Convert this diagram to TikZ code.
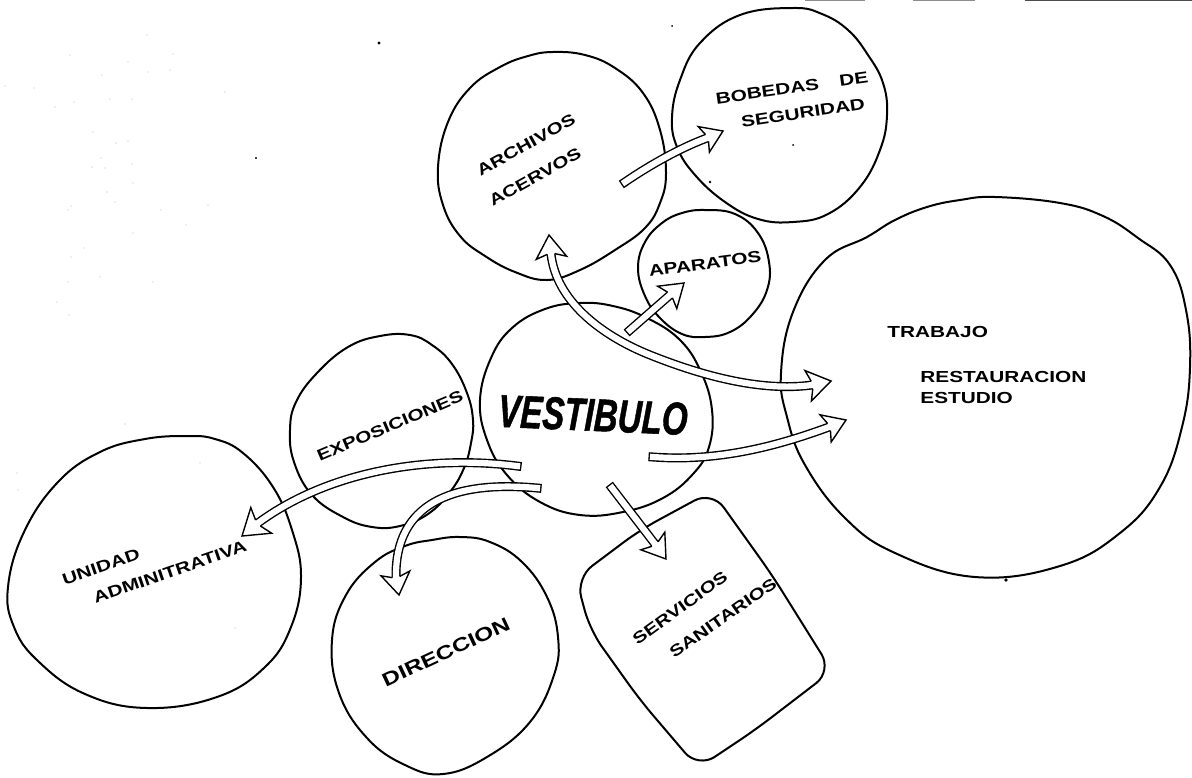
\documentclass[tikz,border=0pt]{standalone}
\usepackage{fontspec}
\usepackage{graphicx}
\setmainfont{Liberation Sans}
\newfontfamily\lblfont{Liberation Sans}[FakeStretch=1.3]
\newfontfamily\hallfont{Liberation Sans}[FakeBold=1.2]
\usetikzlibrary{calc}

% open, barbed arrow head: #1 = base of the head on the shaft, #2 = tip
\newcommand\hollowhead[2]{%
  \fill[white] ($(#1)!1.9pt!90:(#2)$)
    -- ($(#1)!-0.2!(#2)+(#1)!0.8!90:(#2)-(#1)$) -- (#2)
    -- ($(#1)!-0.2!(#2)+(#1)!0.8!-90:(#2)-(#1)$)
    -- ($(#1)!1.9pt!-90:(#2)$) -- cycle;
  \draw[line width=0.7pt, line join=miter] ($(#1)!1.9pt!90:(#2)$)
    -- ($(#1)!-0.2!(#2)+(#1)!0.8!90:(#2)-(#1)$) -- (#2)
    -- ($(#1)!-0.2!(#2)+(#1)!0.8!-90:(#2)-(#1)$)
    -- ($(#1)!1.9pt!-90:(#2)$);
}

\begin{document}
\begin{tikzpicture}[x=0.5pt,y=-0.5pt,
  blob/.style={draw=black, line width=1pt, line join=round},
  shaft/.style={draw=black, line width=0.7pt, double=white, double distance=3.1pt, line cap=rect},
  lbl/.style={inner sep=0pt, font=\lblfont\bfseries\fontsize{8}{9}\selectfont},
  speck/.style={fill=black!28},
  scanline/.style={draw=black!45, line width=0.45pt}]

\useasboundingbox (0,0) rectangle (1192,777);

% ---------- scanning marks ----------
\draw[scanline] (805,0.6) -- (865,0.6);
\draw[scanline] (913,0.6) -- (975,0.6);
\draw[scanline, draw=black!70] (1025,0.6) -- (1192,0.6);
\foreach \p in {(147,35),(70,55),(173,54),(128,62),(102,75),(148,72),(170,70),(5,86),(34,88),
                (225,92),(74,102),(110,99),(132,99),(55,107),(93,132),(128,141),(116,143),(101,158),
                (132,164),(92,167),(105,168),(133,183),(107,192),(115,202),(71,206),(208,205),
                (68,210),(161,210),(186,225),(133,233),(84,248),(71,257),(100,277),(68,282),
                (153,282),(57,302),(69,315),(17,473),(18,490),(200,463),(125,424),(235,628)}
  \fill[speck] \p circle[radius=0.35pt];
\fill (379,43) circle[radius=0.8pt];
\fill (256,158) circle[radius=0.6pt];
\fill (710,182) circle[radius=0.7pt];
\fill (672,26) circle[radius=0.5pt];
\fill (793,145) circle[radius=0.5pt];
\fill (1006,580) circle[radius=0.9pt];

% ---------- spaces ----------
% archivos / acervos
\draw[blob] plot[smooth cycle, tension=0.7] coordinates {
  (553,52) (585,55) (615,68) (643,93) (660,130) (666,173) (660,203) (645,228)
  (615,250) (580,270) (547,280) (515,272) (485,256) (460,236) (443,205) (438,167)
  (448,122) (470,88) (500,67) (528,56)};
% bobedas de seguridad
\draw[blob] plot[smooth cycle, tension=0.7] coordinates {
  (793,8) (822,14) (848,30) (868,55) (883,83) (887,115) (880,150) (860,187) (828,214)
  (793,222) (758,219) (725,202) (695,175) (677,147) (672,117) (680,80) (700,43) (740,15)};
% aparatos
\draw[blob] plot[smooth cycle, tension=0.7] coordinates {
  (705,210) (735,214) (758,233) (769,262) (767,290) (752,315) (730,332) (705,337)
  (682,334) (660,318) (645,296) (638,268) (645,242) (662,223) (682,213)};
% vestibulo
\draw[blob] plot[smooth cycle, tension=0.7] coordinates {
  (580,303) (613,306) (647,318) (680,340) (701,372) (712,410) (709,447) (693,474)
  (663,498) (623,512) (580,515) (540,502) (507,475) (487,440) (480,400) (491,358)
  (512,328) (545,309)};
% exposiciones
\draw[blob] plot[smooth cycle, tension=0.7] coordinates {
  (410,335) (432,345) (452,364) (467,393) (473,420) (471,443) (464,468) (450,492)
  (428,514) (400,526) (372,527) (343,517) (312,495) (294,462) (290,430) (296,402)
  (317,373) (348,347) (380,336)};
% unidad administrativa
\draw[blob] plot[smooth cycle, tension=0.7] coordinates {
  (187,436) (215,439) (243,453) (273,487) (292,530) (301,577) (291,627) (265,667)
  (217,697) (147,708) (85,694) (38,661) (14,627) (8,587) (24,532) (58,482) (100,452)
  (145,439)};
% direccion
\draw[blob] plot[smooth cycle, tension=0.7] coordinates {
  (460,537) (490,542) (522,562) (547,597) (558,637) (554,675) (530,722) (487,757)
  (443,774) (405,765) (367,738) (339,693) (332,640) (346,595) (375,562) (405,546)
  (432,540)};
% trabajo / restauracion / estudio
\draw[blob] plot[smooth cycle, tension=0.7] coordinates {
  (867,237) (895,220) (927,207) (960,200) (995,197) (1060,203) (1103,216) (1138,238)
  (1170,265) (1186,310) (1190,367) (1182,427) (1160,487) (1120,533) (1060,566)
  (975,577) (895,553) (845,518) (805,465) (787,417) (781,373) (793,312) (825,260)};
% servicios sanitarios
\draw[blob, rounded corners=10pt] (576,578) -- (640,530) -- (712,491) -- (772,575)
  -- (832,671) -- (755,730) -- (698,768) -- (640,700) -- (590,630) -- cycle;

% ---------- circulation ----------
\coordinate (vest-bob-s) at (625,182);  \coordinate (vest-bob-e) at (707,138);  \coordinate (vest-bob-t) at (723,131);
\coordinate (arch-trab-t1) at (549,235); \coordinate (arch-trab-e1) at (551,254);
\coordinate (arch-trab-m) at (650,355);
\coordinate (arch-trab-e2) at (812,385); \coordinate (arch-trab-t2) at (831,381);
\coordinate (vest-apa-s) at (630,330);  \coordinate (vest-apa-e) at (670,295);  \coordinate (vest-apa-t) at (684,283);
\coordinate (vest-trab-s) at (653,457); \coordinate (vest-trab-e) at (829,427); \coordinate (vest-trab-t) at (846,420);
\coordinate (vest-uni-s) at (517,466);  \coordinate (vest-uni-e) at (258,523);  \coordinate (vest-uni-t) at (242,536);
\coordinate (vest-dir-s) at (537,488);  \coordinate (vest-dir-e) at (396,577);  \coordinate (vest-dir-t) at (399,595);
\coordinate (vest-san-s) at (612,488);  \coordinate (vest-san-e) at (655,544);  \coordinate (vest-san-t) at (666,559);

\draw[shaft] (vest-bob-s) .. controls (650,165) and (680,148) .. (vest-bob-e);
\hollowhead{vest-bob-e}{vest-bob-t}

\draw[shaft] (arch-trab-e1) .. controls (556,300) and (600,335) .. (arch-trab-m)
  .. controls (700,375) and (760,392) .. (arch-trab-e2);
\hollowhead{arch-trab-e1}{arch-trab-t1}
\hollowhead{arch-trab-e2}{arch-trab-t2}

\draw[shaft] (vest-apa-s) -- (vest-apa-e);
\hollowhead{vest-apa-e}{vest-apa-t}

\draw[shaft] (vest-trab-s) .. controls (720,462) and (780,445) .. (vest-trab-e);
\hollowhead{vest-trab-e}{vest-trab-t}

\draw[shaft] (vest-uni-s) .. controls (430,455) and (330,470) .. (vest-uni-e);
\hollowhead{vest-uni-e}{vest-uni-t}

\draw[shaft] (vest-dir-s) .. controls (450,480) and (395,505) .. (vest-dir-e);
\hollowhead{vest-dir-e}{vest-dir-t}

\draw[shaft] (vest-san-s) -- (vest-san-e);
\hollowhead{vest-san-e}{vest-san-t}

% ---------- labels ----------
\node[lbl, rotate=29] (archivos) at (526,145) {ARCHIVOS};
\node[lbl, rotate=29] (acervos) at (535,177) {ACERVOS};
\node[lbl, rotate=8] (bobedas) at (792,88) {BOBEDAS\hspace{1.3em}DE};
\node[lbl, rotate=8.5] (seguridad) at (803,113) {SEGURIDAD};
\node[lbl, rotate=7.5] (aparatos) at (705,264) {APARATOS};
\node[inner sep=0pt, rotate=-2.5] (vestibulo) at (593,415)
  {\scalebox{0.72}[1]{\hallfont\fontsize{23}{23}\selectfont\bfseries\itshape VESTIBULO}};
\node[lbl, rotate=23] (exposiciones) at (390,426) {EXPOSICIONES};
\node[lbl, rotate=19] (unidad) at (101,567) {UNIDAD};
\node[lbl, rotate=19] (admin) at (170,572) {ADMINITRATIVA};
\node[lbl, rotate=25, font=\lblfont\bfseries\fontsize{9.5}{10}\selectfont] (direccion) at (446,652) {DIRECCION};
\node[lbl, rotate=36] (servicios) at (680,608) {SERVICIOS};
\node[lbl, rotate=35] (sanitarios) at (723,618) {SANITARIOS};
\node[lbl, anchor=west] (trabajo) at (887,332) {TRABAJO};
\node[lbl, anchor=west] (restauracion) at (920,377) {RESTAURACION};
\node[lbl, anchor=west] (estudio) at (920,398) {ESTUDIO};

\end{tikzpicture}
\end{document}
